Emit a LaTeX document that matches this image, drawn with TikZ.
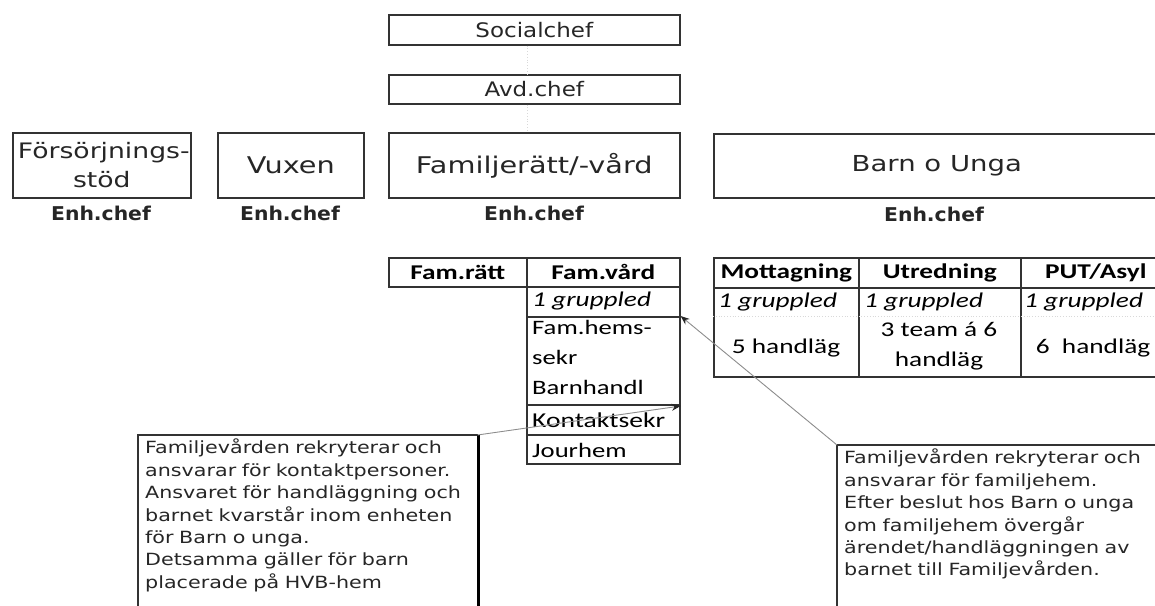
\documentclass[tikz,border=0pt]{standalone}
\usepackage{fontspec}
\setmainfont{DejaVu Sans}
\newfontfamily\topf[FakeStretch=1.15]{DejaVu Sans}
\newfontfamily\unitf[FakeStretch=1.25]{DejaVu Sans}
\newfontfamily\enhf[FakeStretch=1.07]{DejaVu Sans}
\newfontfamily\calf[FakeStretch=1.3]{Carlito}
\newfontfamily\notef[FakeStretch=1.23]{DejaVu Sans}
\usetikzlibrary{arrows.meta}
\begin{document}
\begin{tikzpicture}[x=1pt,y=-1pt,
  box/.style={draw=black!80, line width=1.6pt, inner sep=0pt, anchor=north west},
  topfont/.style={font=\topf\fontsize{20}{22}\selectfont, text=black!85},
  unitfont/.style={font=\unitf\fontsize{23}{30}\selectfont, text=black!85},
  enh/.style={font=\enhf\bfseries\fontsize{19}{22}\selectfont, text=black!85},
  cellhead/.style={box, font=\calf\bfseries\fontsize{21}{26}\selectfont},
  celltxt/.style={anchor=north west, inner sep=0pt, align=left, font=\calf\fontsize{20.5}{30}\selectfont},
  grp/.style={anchor=west, inner sep=0pt, font=\calf\itshape\fontsize{21}{26}\selectfont},
  handl/.style={inner sep=0pt, align=center, font=\calf\fontsize{21}{30}\selectfont},
  note/.style={anchor=north west, inner xsep=7pt, inner ysep=4pt,
    align=left, text width=325pt, font=\notef\fontsize{16.8}{22.4}\selectfont, text=black!85},
  noteframe/.style={draw=black!80, line width=1.2pt},
  conn/.style={draw=black!45, line width=0.9pt, -{Stealth[length=9pt,width=7pt,black!85]}},
  faint/.style={draw=black!15, line width=0.8pt, dotted}
]
\useasboundingbox (0,0) rectangle (1155,605);
\clip (0,0) rectangle (1155,605);

% top chain
\node[box, minimum width=291, minimum height=30, topfont] (soc) at (388,14) {Socialchef};
\node[box, minimum width=291, minimum height=29, topfont] (avd) at (388,74) {Avd.chef};
\node[box, minimum width=178, minimum height=65, unitfont, font=\unitf\fontsize{21.3}{29}\selectfont, align=center] (fors) at (12,132) {\hspace*{4pt}Försörjnings-\\stöd};
\node[box, minimum width=146, minimum height=65, unitfont] (vux) at (217,132) {Vuxen};
\node[box, minimum width=291, minimum height=65, unitfont] (fam) at (388,132) {Familjerätt/-vård};
\node[box, minimum width=460, minimum height=64, unitfont, font=\unitf\fontsize{22}{30}\selectfont] (barn) at (713,133) {\hspace*{-14pt}Barn o Unga};

\draw[faint] (soc.south -| 527,0) -- (avd.north -| 527,0);
\draw[faint] (avd.south -| 527,0) -- (fam.north -| 527,0);

\node[enh] (e1) at (101,213) {Enh.chef};
\node[enh] (e2) at (290,213) {Enh.chef};
\node[enh] (e3) at (534,213) {Enh.chef};
\node[enh] (e4) at (934,214) {Enh.chef};

% Fam table
\node[cellhead, minimum width=138, minimum height=29] (famratt) at (388,257) {Fam.rätt};
\node[cellhead, minimum width=153, minimum height=29] (famvard) at (526,257) {Fam.vård};
\node[box, minimum width=153, minimum height=30] (grp1) at (526,286) {};
\node[grp] (grp1t) at (532,301) {1 gruppled};
\node[box, minimum width=153, minimum height=88] (fhs) at (526,316) {};
\node[celltxt] (fhst) at (532,320) {Fam.hems-\\sekr\\Barnhandl};
\node[box, minimum width=153, minimum height=30] (kontakt) at (526,404) {};
\node[grp, font=\calf\fontsize{21.2}{26}\selectfont] (kontaktt) at (532,420) {Kontaktsekr};
\node[box, minimum width=153, minimum height=29] (jour) at (526,434) {};
\node[grp, font=\calf\fontsize{20.5}{26}\selectfont] (jourt) at (532,450) {Jourhem};

% Barn table
\node[cellhead, minimum width=145, minimum height=30] (mott) at (713,257) {Mottagning};
\node[cellhead, minimum width=162, minimum height=30] (utr) at (858,257) {Utredning};
\node[cellhead, minimum width=150, minimum height=30] (put) at (1020,257) {PUT/Asyl};
\node[box, minimum width=145, minimum height=89] (mottb) at (713,287) {};
\node[box, minimum width=162, minimum height=89] (utrb) at (858,287) {};
\node[box, minimum width=150, minimum height=89] (putb) at (1020,287) {};
\draw[faint] (mottb.west |- 0,316) -- (1155,316);
\node[grp] (g2) at (718,302) {1 gruppled};
\node[grp] (g3) at (864,302) {1 gruppled};
\node[grp] (g4) at (1024,302) {1 gruppled};
\node[handl] (h1) at (786,348) {5 handläg};
\node[handl] (h2) at (939,346) {3 team á 6\\handläg};
\node[handl] (h3) at (1093,348) {6~~handläg};

% notes
\node[note] (lnote) at (138,435) {Familjevården rekryterar och\\ansvarar för kontaktpersoner.\\Ansvaret för handläggning och\\barnet kvarstår inom enheten\\för Barn o unga.\\Detsamma gäller för barn\\placerade på HVB-hem};
\draw[noteframe] (lnote.north west) rectangle (lnote.east |- 0,620);
\draw[black, line width=3pt] ([xshift=1.5pt]lnote.north east) -- ([xshift=1.5pt]lnote.east |- 0,620);
\node[note, text width=310pt] (rnote) at (837,445) {Familjevården rekryterar och\\ansvarar för familjehem.\\Efter beslut hos Barn o unga\\om familjehem övergår\\ärendet/handläggningen av\\barnet till Familjevården.};
\draw[noteframe] (rnote.north west) rectangle (rnote.east |- 0,620);

\draw[conn] (lnote.north east) -- ([yshift=-2pt]kontakt.north east);
\draw[conn] (rnote.north west) -- (fhs.north east);
\end{tikzpicture}
\end{document}
